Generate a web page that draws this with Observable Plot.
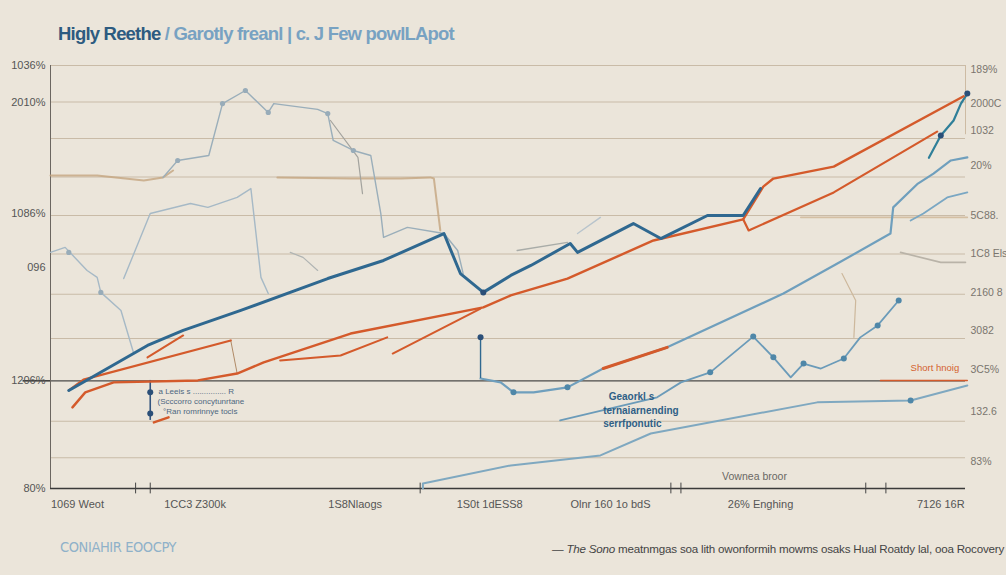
<!DOCTYPE html>
<html><head><meta charset="utf-8">
<script src="https://cdn.jsdelivr.net/npm/d3@7"></script>
<script src="https://cdn.jsdelivr.net/npm/@observablehq/plot@0.6"></script>
<style>
html,body{margin:0;padding:0;background:#ebe5da;width:1006px;height:575px;overflow:hidden;font-family:"Liberation Sans",Arial,sans-serif;}
#title{position:absolute;left:58px;top:23px;font-size:18.5px;letter-spacing:-0.8px;white-space:nowrap;}
#title b{color:#2d5b80;}
#title span{color:#78a2c2;font-weight:600;}
#chart{position:absolute;left:0;top:55px;}
#capL{position:absolute;left:60px;top:539px;font-family:"DejaVu Sans";font-stretch:condensed;font-size:14.5px;color:#8fb1c9;letter-spacing:-0.4px;}
#capR{position:absolute;left:552px;top:542px;font-size:11.6px;color:#444;white-space:nowrap;letter-spacing:-0.2px;}
</style></head>
<body>
<div id="title"><b>Higly Reethe</b> <span>/ Garotly freanl | c. J Few powlLApot</span></div>
<div id="chart"></div>
<div id="capL">CONIAHIR EOOCPY</div>
<div id="capR"><i>— The Sono</i> meatnmgas soa lith owonformih mowms osaks Hual Roatdy lal, ooa Rocovery</div>
<script>
// ---- data (x: 0–100 along the period, y: index value) ----
const gridValues = [8, 17.5, 39, 50.5, 61, 71, 81, 91, 100.5, 110];
const darkGridValue = 28;
const leftTickValues = [110, 100.5, 71.5, 57.4, 28, 0];
const leftTickLabels = ["1036%", "2010%", "1086%", "096", "1206%", "80%"];
const rightTickValues = [109, 100, 93, 84, 71, 61, 51, 41, 31, 20, 7];
const rightTickLabels = ["189%", "2000C", "1032", "20%", "5C88.", "1C8 Els", "2160 8", "3082", "3C5%", "132.6", "83%"];
const xTickValues = [2.95, 15.8, 33.3, 48, 61.2, 77.6, 97.3];
const xTickLabels = ["1069 Weot", "1CC3 Z300k", "1S8Nlaogs", "1S0t 1dESS8", "Olnr 160 1o bdS", "26% Enghing", "7126 16R"];
const xMinorTicks = [9.3, 10.9, 40.4, 67.8, 68.9, 89.1, 91.3];

const darkBlueX = [2.0, 10.6, 14.5, 20.8, 30.3, 36.4, 43.0, 44.8, 47.3, 50.3, 52.5, 56.8, 57.6, 63.7, 66.7, 71.8, 75.7, 77.6];
const darkBlueY = [25.5, 37.2, 41.1, 46.3, 54.6, 59.3, 66.3, 55.9, 51.0, 55.4, 58.0, 63.7, 61.4, 68.9, 65.0, 71.0, 71.0, 78.0];

const orangeMainX = [2.4, 3.8, 6.9, 16.1, 20.4, 23.3, 32.8, 47.3, 50.3, 56.5, 65.9, 75.7, 77.9, 79.0, 85.6, 99.8];
const orangeMainY = [21.1, 25.0, 27.6, 28.1, 29.9, 32.8, 40.3, 47.1, 50.2, 54.6, 64.5, 70.0, 78.5, 80.6, 83.7, 102.0];
const orangeUpperLeftX = [2.0, 3.6, 19.7];
const orangeUpperLeftY = [25.5, 28.3, 38.5];
const orangeLowerRightX = [75.7, 76.3, 85.6, 96.9];
const orangeLowerRightY = [70.0, 67.1, 77.0, 92.8];
const orangeShortAX = [10.6, 14.5], orangeShortAY = [34.1, 39.8];
const orangeShortBX = [25.1, 31.7, 36.8], orangeShortBY = [33.3, 34.6, 39.3];
const orangeShortCX = [37.4, 47.0], orangeShortCY = [35.1, 46.8];
const orangeShortDX = [60.4, 67.4], orangeShortDY = [31.2, 36.7];
const orangeTickX = [11.3, 12.9], orangeTickY = [17.2, 18.5];
const orangeRightX = [90.7, 100.2], orangeRightY = [28.1, 28.1];

const lightRiseX = [47.0, 49.2, 50.6, 52.8, 56.5, 60.4, 67.4, 80.1, 86.0, 91.8, 92.1, 94.8, 96.5, 98.4, 100.2];
const lightRiseY = [28.6, 27.6, 25.0, 25.0, 26.3, 31.2, 36.7, 50.7, 58.5, 66.3, 73.1, 79.3, 81.9, 85.3, 86.1];
const lightBranchX = [94.0, 95.4, 98.0, 100.2], lightBranchY = [69.7, 71.5, 75.7, 77.0];
const tealTopX = [96.0, 97.3, 98.7, 99.5, 100.2], tealTopY = [86.0, 91.8, 95.7, 100.1, 102.7];
const lightLowX = [40.7, 40.7, 50.3, 60.1, 65.6, 83.8, 94.0, 100.2];
const lightLowY = [0, 1.3, 6.0, 8.6, 14.3, 22.4, 22.9, 26.8];
const lightWiggleX = [55.7, 66.3, 68.9, 72.1, 76.8, 79.0, 80.9, 82.3, 84.2, 86.7, 88.5, 90.4, 92.7];
const lightWiggleY = [17.7, 23.7, 27.6, 30.2, 39.5, 34.1, 28.9, 32.5, 31.2, 33.8, 39.3, 42.4, 48.9];

const grayAX = [0, 1.6, 4.0, 5.1, 5.5, 7.7, 9.1], grayAY = [61.4, 62.7, 56.7, 54.9, 51.0, 46.3, 35.1];
const grayBX = [8.0, 10.9, 15.3, 17.2, 20.4, 21.9, 23.0, 23.8], grayBY = [54.6, 71.5, 74.1, 73.1, 75.7, 78.0, 54.9, 50.7];
const grayCX = [12.3, 13.9, 17.3, 18.8, 21.3, 23.8, 24.4, 29.2, 30.3, 30.9, 33.1, 35.0, 36.1, 36.4, 39.0, 43.0, 44.5, 45.1];
const grayCY = [80.9, 85.3, 86.6, 100.1, 103.5, 97.8, 100.1, 98.6, 97.5, 90.5, 87.9, 86.6, 71.5, 65.3, 67.9, 66.3, 61.9, 55.9];
const grayDX = [30.6, 33.6, 34.1], grayDY = [95.7, 86.1, 76.7];
const grayEX = [26.2, 27.6, 29.2], grayEY = [61.4, 60.1, 56.7];
const graySpurAX = [51.0, 56.5], graySpurAY = [61.9, 64.0];
const graySpurBX = [57.6, 60.1], graySpurBY = [66.3, 70.5];

const tanAX = [0, 5.1, 10.2, 12.3, 13.4], tanAY = [81.4, 81.4, 80.1, 80.9, 82.7];
const tanBX = [24.8, 32.8, 38.3, 41.5, 41.9, 42.6], tanBY = [80.9, 80.6, 80.6, 80.9, 80.6, 67.1];
const tanCX = [82.0, 100.2], tanCY = [70.5, 70.5];
const tanDX = [92.9, 97.3, 100], tanDY = [61.4, 58.8, 58.8];
const tanEX = [19.7, 20.4], tanEY = [38.5, 29.9];
const tanFX = [86.5, 88.0, 87.8], tanFY = [55.9, 48.9, 39.3];

const dotLightX = [72.1, 76.8, 79.0, 82.3, 86.7, 90.4, 92.7, 94.0, 50.6, 56.5];
const dotLightY = [30.2, 39.5, 34.1, 32.5, 33.8, 42.4, 48.9, 22.9, 25.0, 26.3];
const dotGrayX = [18.8, 21.3, 23.8, 30.3, 33.1, 2.0, 5.5, 13.9];
const dotGrayY = [100.1, 103.5, 97.8, 97.5, 87.9, 61.4, 51.0, 85.3];
const dotDarkX = [47.0, 10.9, 10.9, 100.2, 47.3, 97.3];
const dotDarkY = [39.3, 25.0, 19.5, 102.7, 51.0, 91.8];

const notes = [
  {x: 11.8, y: 25.2, text: "a Leeis s ............... R"},
  {x: 11.7, y: 22.6, text: "(Scccorro concytunrtane"},
  {x: 12.3, y: 20.1, text: "°Ran romrinnye tocls"},
  {x: 61.0, y: 23.9, text: "Geaorkl s"},
  {x: 60.4, y: 20.3, text: "ternaiarnending"},
  {x: 60.4, y: 16.9, text: "serrfponutic"}
];
const noteGray = {x: 73.4, y: 3.1, text: "Vownea broor"};
const noteOrange = {x: 94.0, y: 31.3, text: "Short hnoig"};

// ---- build ----
const pts = (xs, ys) => xs.map((x, i) => ({x, y: ys[i]}));
const line = (xs, ys, o) => Plot.line(pts(xs, ys), {x: "x", y: "y", curve: "linear", strokeLinejoin: "round", strokeLinecap: "round", ...o});
const C = {dark: "#2f6890", orange: "#d45a2b", light: "#6f9fbd", gray: "#a6b9c6", tan: "#c4a57f", teal: "#2f7f99"};

const chart = Plot.plot({
  width: 1006, height: 480,
  marginLeft: 50, marginRight: 41, marginTop: 10, marginBottom: 47,
  x: {domain: [0, 100], axis: null},
  y: {domain: [0, 110], axis: null},
  style: {background: "transparent", fontFamily: "Liberation Sans, Arial, sans-serif"},
  marks: [
    Plot.ruleY(gridValues, {stroke: "#c9bba7", strokeWidth: 1.1}),
    Plot.ruleY([darkGridValue], {stroke: "#4b4a48", strokeWidth: 1.4}),
    Plot.ruleY([darkGridValue], {x1: -3, x2: 0, stroke: "#333", strokeWidth: 1.5}),
    Plot.ruleX([0], {y1: 0, y2: 110, stroke: "#6b6660", strokeWidth: 1}),
    Plot.ruleX([100], {y1: 92, y2: 110, stroke: "#cdbba3", strokeWidth: 1}),
    Plot.ruleY([0], {stroke: "#3a3a3a", strokeWidth: 1.6}),
    Plot.ruleX(xMinorTicks, {x: d => d, y1: -1.4, y2: 1.4, stroke: "#444"}),
    Plot.axisY(leftTickValues, {anchor: "left", label: null, tickSize: 0, tickPadding: 5, fontSize: 11, fill: "#555", tickFormat: (d, i) => leftTickLabels[i]}),
    Plot.axisY(rightTickValues, {anchor: "right", label: null, tickSize: 0, tickPadding: 5, fontSize: 10.5, fill: "#7a756e", style: {letterSpacing: "-0.4px"}, tickFormat: (d, i) => rightTickLabels[i]}),
    Plot.axisX(xTickValues, {anchor: "bottom", label: null, tickSize: 0, tickPadding: 12, fontSize: 11, fill: "#555", tickFormat: (d, i) => xTickLabels[i]}),
    // background faint lines
    line(tanAX, tanAY, {stroke: C.tan, strokeWidth: 2, strokeOpacity: 0.8}),
    line(tanBX, tanBY, {stroke: C.tan, strokeWidth: 2, strokeOpacity: 0.8}),
    line(tanCX, tanCY, {stroke: C.tan, strokeWidth: 1.6, strokeOpacity: 0.6}),
    line(tanDX, tanDY, {stroke: "#b9b3a8", strokeWidth: 1.6}),
    line(tanEX, tanEY, {stroke: "#b08a66", strokeWidth: 1}),
    line(tanFX, tanFY, {stroke: "#cdb89c", strokeWidth: 1.2}),
    line(grayAX, grayAY, {stroke: C.gray, strokeWidth: 1.4}),
    line(grayBX, grayBY, {stroke: C.gray, strokeWidth: 1.4}),
    line(grayCX, grayCY, {stroke: "#9aaeba", strokeWidth: 1.4}),
    line(grayDX, grayDY, {stroke: "#a3a39e", strokeWidth: 1.2}),
    line(grayEX, grayEY, {stroke: "#b0b4b3", strokeWidth: 1.2}),
    line(graySpurAX, graySpurAY, {stroke: "#a9aca8", strokeWidth: 1.4}),
    line(graySpurBX, graySpurBY, {stroke: "#b8c4cc", strokeWidth: 1.4}),
    // light blue series
    line(lightLowX, lightLowY, {stroke: "#7fa8c0", strokeWidth: 2}),
    line(lightWiggleX, lightWiggleY, {stroke: "#6b9bb9", strokeWidth: 1.8}),
    line(lightRiseX, lightRiseY, {stroke: C.light, strokeWidth: 2.2}),
    line(lightBranchX, lightBranchY, {stroke: "#7aa7c3", strokeWidth: 1.8}),
    line(tealTopX, tealTopY, {stroke: C.teal, strokeWidth: 2.2}),
    Plot.ruleX([47.0], {y1: 28.6, y2: 39.3, stroke: C.dark, strokeWidth: 1.4}),
    Plot.ruleX([10.9], {y1: 17.7, y2: 28.1, stroke: "#35557e", strokeWidth: 1.6}),
    // orange series
    line(orangeUpperLeftX, orangeUpperLeftY, {stroke: C.orange, strokeWidth: 2.2}),
    line(orangeMainX, orangeMainY, {stroke: C.orange, strokeWidth: 2.4}),
    line(orangeLowerRightX, orangeLowerRightY, {stroke: C.orange, strokeWidth: 2.2}),
    line(orangeShortAX, orangeShortAY, {stroke: C.orange, strokeWidth: 2}),
    line(orangeShortBX, orangeShortBY, {stroke: C.orange, strokeWidth: 2}),
    line(orangeShortCX, orangeShortCY, {stroke: C.orange, strokeWidth: 2}),
    line(orangeShortDX, orangeShortDY, {stroke: C.orange, strokeWidth: 3}),
    line(orangeTickX, orangeTickY, {stroke: C.orange, strokeWidth: 2.5}),
    line(orangeRightX, orangeRightY, {stroke: C.orange, strokeWidth: 1.4}),
    // dark blue series
    line(darkBlueX, darkBlueY, {stroke: C.dark, strokeWidth: 3}),
    // dots
    Plot.dot(pts(dotGrayX, dotGrayY), {x: "x", y: "y", r: 2.6, fill: "#98acb9"}),
    Plot.dot(pts(dotLightX, dotLightY), {x: "x", y: "y", r: 3, fill: "#4f87a8"}),
    Plot.dot(pts(dotDarkX, dotDarkY), {x: "x", y: "y", r: 3, fill: "#2b4f78"}),
    // annotations
    Plot.text(notes.slice(0, 3), {x: "x", y: "y", text: "text", fontSize: 8, textAnchor: "start", fill: "#4d6780"}),
    Plot.text(notes.slice(3), {x: "x", y: "y", text: "text", fontSize: 10, textAnchor: "start", fill: "#2f5f86", fontWeight: 600}),
    Plot.text([noteGray], {x: "x", y: "y", text: "text", fontSize: 10.5, textAnchor: "start", fill: "#6a6864"}),
    Plot.text([noteOrange], {x: "x", y: "y", text: "text", fontSize: 9.5, textAnchor: "start", fill: "#d4622f"})
  ]
});
document.getElementById("chart").appendChild(chart);
</script>
</body></html>
